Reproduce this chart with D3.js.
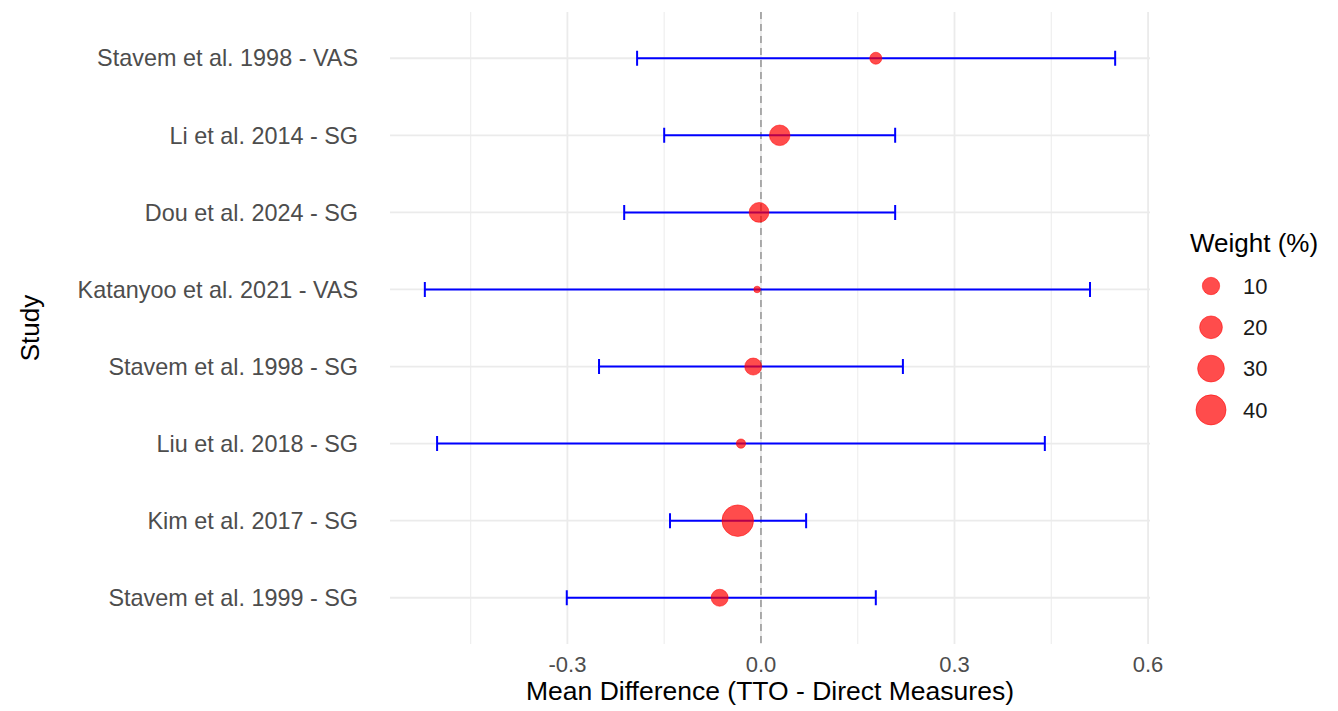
<!DOCTYPE html>
<html>
<head>
<meta charset="utf-8">
<script src="https://cdn.jsdelivr.net/npm/d3@7"></script>
<style>
  body { margin: 0; background: #fff; }
  svg { font-family: "Liberation Sans", Arial, sans-serif; }
</style>
</head>
<body>
<svg width="1338" height="711"></svg>
<script>
// studies, top to bottom
var studies = ["Stavem et al. 1998 - VAS", "Li et al. 2014 - SG", "Dou et al. 2024 - SG",
  "Katanyoo et al. 2021 - VAS", "Stavem et al. 1998 - SG", "Liu et al. 2018 - SG",
  "Kim et al. 2017 - SG", "Stavem et al. 1999 - SG"];
var meanDiff = [0.178, 0.029, -0.003, -0.006, -0.012, -0.031, -0.036, -0.064];
var ciLower = [-0.192, -0.150, -0.212, -0.521, -0.251, -0.502, -0.141, -0.301];
var ciUpper = [0.549, 0.208, 0.208, 0.510, 0.220, 0.440, 0.070, 0.178];
var weights = [4.0, 15.5, 14.0, 2.0, 9.5, 2.5, 45.0, 9.5];
var xTicks = [-0.3, 0.0, 0.3, 0.6];
var xMinor = [-0.45, -0.15, 0.15, 0.45];
var legendValues = [10, 20, 30, 40];

var svg = d3.select("svg"),
    panel = {left: 390, right: 1150, top: 12, bottom: 644};

var x = d3.scaleLinear().domain([-0.575, 0.603]).range([panel.left, panel.right]);
var y = d3.scalePoint().domain(studies).range([panel.top, panel.bottom]).padding(0.6);

// ggplot-ish area palette: rescale, sqrt, then map to radius range
var wExt = d3.extent(weights);
var rLin = d3.scaleLinear().domain([0, 1]).range([3.3, 15.8]);
function radius(w) {
    var t = Math.max(0, (w - wExt[0]) / (wExt[1] - wExt[0]));
    return rLin(Math.sqrt(t));
}

var data = studies.map(function(s, i) {
    return {study: s, md: meanDiff[i], lo: ciLower[i], hi: ciUpper[i], w: weights[i]};
});

var grid = svg.append("g").attr("class", "grid");

// minor vertical gridlines
grid.selectAll(".minor").data(xMinor).enter().append("line")
    .attr("x1", function(d) { return x(d); })
    .attr("x2", function(d) { return x(d); })
    .attr("y1", panel.top).attr("y2", panel.bottom)
    .attr("stroke", "#EFEFEF").attr("stroke-width", 1.2);

// major vertical gridlines
grid.selectAll(".majorx").data(xTicks).enter().append("line")
    .attr("x1", function(d) { return x(d); })
    .attr("x2", function(d) { return x(d); })
    .attr("y1", panel.top).attr("y2", panel.bottom)
    .attr("stroke", "#EBEBEB").attr("stroke-width", 1.8);

// horizontal gridlines
grid.selectAll(".majory").data(studies).enter().append("line")
    .attr("x1", panel.left).attr("x2", panel.right)
    .attr("y1", function(d) { return y(d); })
    .attr("y2", function(d) { return y(d); })
    .attr("stroke", "#EBEBEB").attr("stroke-width", 1.8);

// reference line at zero
svg.append("line")
    .attr("x1", x(0)).attr("x2", x(0))
    .attr("y1", panel.top).attr("y2", panel.bottom)
    .attr("stroke", "#9A9A9A").attr("stroke-width", 1.6)
    .attr("stroke-dasharray", "7,5");

// error bars
var capH = 7.5;
var eb = svg.append("g").attr("class", "errorbars")
    .attr("stroke", "#0000FF").attr("stroke-width", 2).attr("fill", "none");

eb.selectAll(".bar").data(data).enter().append("path")
    .attr("d", function(d) {
        var yy = y(d.study), x0 = x(d.lo), x1 = x(d.hi);
        return "M" + x0 + "," + (yy - capH) + "V" + (yy + capH) +
               "M" + x0 + "," + yy + "H" + x1 +
               "M" + x1 + "," + (yy - capH) + "V" + (yy + capH);
    });

// points
svg.append("g").selectAll("circle").data(data).enter().append("circle")
    .attr("cx", function(d) { return x(d.md); })
    .attr("cy", function(d) { return y(d.study); })
    .attr("r", function(d) { return radius(d.w); })
    .attr("fill", "#FF0000").attr("fill-opacity", 0.7)
    .attr("stroke", "#FF0000").attr("stroke-opacity", 0.5).attr("stroke-width", 1);

// y axis labels
svg.append("g").selectAll("text").data(studies).enter().append("text")
    .attr("x", 358)
    .attr("y", function(d) { return y(d); })
    .attr("dy", "0.35em")
    .attr("text-anchor", "end")
    .attr("fill", "#4D4D4D")
    .style("font-size", "23.4px")
    .text(function(d) { return d; });

// x axis labels (plain hyphen for negatives, as in the original)
svg.append("g").selectAll("text").data(xTicks).enter().append("text")
    .attr("x", function(d) { return x(d); })
    .attr("y", 664)
    .attr("dy", "0.35em")
    .attr("text-anchor", "middle")
    .attr("fill", "#4D4D4D")
    .style("font-size", "22px")
    .text(function(d) { return d.toFixed(1); });

// axis titles
svg.append("text")
    .attr("x", (panel.left + panel.right) / 2)
    .attr("y", 691)
    .attr("dy", "0.35em")
    .attr("text-anchor", "middle")
    .style("font-size", "26.5px")
    .text("Mean Difference (TTO - Direct Measures)");

svg.append("text")
    .attr("transform", "translate(30," + ((panel.top + panel.bottom) / 2) + ") rotate(-90)")
    .attr("dy", "0.35em")
    .attr("text-anchor", "middle")
    .style("font-size", "26px")
    .text("Study");

// legend
var legend = svg.append("g").attr("transform", "translate(1190,0)");
legend.append("text")
    .attr("x", 0).attr("y", 243)
    .attr("dy", "0.35em")
    .style("font-size", "26px")
    .text("Weight (%)");

var keys = legend.selectAll(".key").data(legendValues).enter().append("g")
    .attr("transform", function(d, i) { return "translate(0," + (286 + i * 41.3) + ")"; });

keys.append("circle")
    .attr("cx", 21).attr("cy", 0)
    .attr("r", function(d) { return radius(d); })
    .attr("fill", "#FF0000").attr("fill-opacity", 0.7)
    .attr("stroke", "#FF0000").attr("stroke-opacity", 0.5).attr("stroke-width", 1);

keys.append("text")
    .attr("x", 53).attr("y", 0)
    .attr("dy", "0.35em")
    .attr("fill", "#1A1A1A")
    .style("font-size", "22px")
    .text(function(d) { return d; });
</script>
</body>
</html>
